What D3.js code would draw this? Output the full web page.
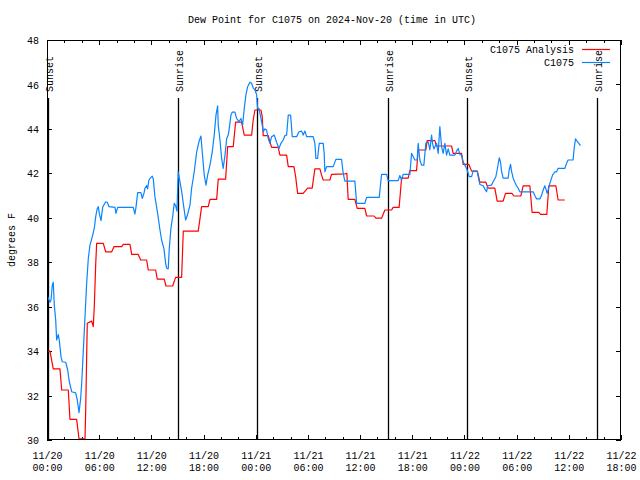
<!DOCTYPE html>
<html><head><meta charset="utf-8">
<script src="https://cdn.jsdelivr.net/npm/d3@7"></script>
<style>
html,body{margin:0;padding:0;background:#fff;}
text{font-family:"Liberation Mono","DejaVu Sans Mono",monospace;font-size:10px;fill:#000;}
</style></head>
<body><svg id="c" width="640" height="480"></svg>
<script>
// ---- data (hours since 2024-11-20 00:00 UTC) ----
const analysisHours = [0,0.17,0.34,0.72,1.49,1.69,2.45,2.64,3.41,3.68,4.37,4.45,4.63,5.14,5.32,5.44,5.6,5.71,6.47,6.75,7.44,7.70,8.59,8.77,9.54,9.74,10.49,10.77,11.46,11.64,12.49,12.68,13.48,13.68,14.45,14.79,15.48,15.67,17.39,17.78,18.54,18.74,19.51,19.69,20.54,20.77,21.41,21.69,22.38,22.68,23.53,23.71,23.91,24.6,24.75,24.86,25.44,25.63,25.83,26.59,26.78,27.55,27.74,28.39,28.59,28.82,29.46,29.97,30.49,30.8,31.38,31.57,31.76,32.53,32.72,34.25,34.48,34.63,35.4,35.67,36.55,36.75,37.62,37.82,38.47,38.85,39.62,39.8,40.49,40.77,41.53,41.72,42.49,42.68,43.56,43.71,44.6,44.79,46.52,46.7,47.67,47.85,48.51,48.82,49.48,49.77,50.46,50.72,51.49,51.76,52.45,52.72,53.45,53.68,54.48,54.75,55.52,55.78,56.55,56.75,57.47,57.7,58.51,58.77,59.54];
const analysisDew = [34.0,34.0,34.0,33.2,33.2,32.25,32.25,30.93,30.93,30.05,30.05,31.35,35.25,35.35,35.1,36.03,37.9,38.85,38.85,38.47,38.47,38.7,38.7,38.8,38.8,38.35,38.35,38.1,38.1,37.65,37.65,37.24,37.24,36.93,36.93,37.32,37.32,39.4,39.4,40.5,40.5,40.83,40.83,41.74,41.74,43.2,43.2,44.3,44.3,43.72,43.72,44.4,44.85,44.85,44.55,43.7,43.7,43.42,43.17,43.17,42.82,42.82,42.3,42.3,41.85,41.1,41.1,41.33,41.33,42.2,42.2,41.92,41.7,41.7,41.95,41.98,42.0,40.83,40.83,40.42,40.42,40.08,40.08,39.98,39.98,40.35,40.35,40.47,40.47,41.78,41.78,42.12,42.12,43.05,43.05,43.47,43.47,43.23,43.23,42.9,42.9,42.4,42.4,42.1,42.1,41.6,41.6,41.33,41.33,40.75,40.75,41.1,41.1,40.98,40.98,41.44,41.44,40.24,40.24,40.15,40.15,41.44,41.44,40.8,40.8];
const stationHours = [0,0.08,0.34,0.46,0.61,0.72,0.84,1.0,1.11,1.3,1.41,1.61,1.76,2.15,2.38,2.53,2.84,3.3,3.48,3.68,3.87,3.99,4.17,4.37,4.56,4.75,4.94,5.21,5.44,5.6,5.78,5.9,6.01,6.21,6.4,6.75,6.93,7.13,7.82,7.93,8.13,9.92,10.11,10.23,10.43,10.8,10.95,11.18,11.26,11.46,11.57,11.72,11.95,12.1,12.22,12.41,12.72,12.99,13.18,13.45,13.64,13.76,13.94,14.06,14.25,14.45,14.63,14.79,14.94,15.09,15.29,15.48,15.67,15.94,16.13,16.44,16.63,16.93,17.21,17.47,17.7,17.85,18.08,18.28,18.47,18.74,19.0,19.23,19.43,19.62,19.69,19.89,20.08,20.26,20.46,20.66,20.84,20.95,21.15,21.3,21.61,21.8,22.07,22.3,22.49,22.68,22.87,23.07,23.33,23.53,23.71,23.91,24.1,24.22,24.37,24.6,24.75,24.86,25.06,25.25,25.44,25.63,25.83,26.13,26.4,26.67,26.9,27.16,27.36,27.55,27.74,28.01,28.2,28.7,28.97,29.28,29.46,29.66,29.85,30.61,30.8,30.92,31.11,31.3,31.57,31.76,31.87,31.95,32.15,32.91,33.22,33.87,34.06,34.25,35.4,35.6,36.55,36.75,38.2,38.47,39.05,39.23,40.38,40.57,40.77,40.95,41.72,41.92,42.11,42.3,42.56,42.68,42.87,43.07,43.33,43.56,43.83,44.02,44.22,44.33,44.48,44.79,44.98,45.17,45.37,45.55,45.75,45.94,46.13,46.32,46.9,47.09,47.28,47.47,47.67,47.85,48.05,48.24,48.31,48.54,48.82,49.0,49.46,49.66,49.77,50.15,50.34,50.54,50.66,51.11,51.3,51.61,51.76,52.0,52.15,52.26,52.45,53.02,53.14,53.3,53.41,53.6,53.79,53.99,54.17,54.37,55.9,56.09,56.29,56.67,56.86,57.05,57.24,57.36,57.51,57.62,57.82,58.13,58.39,58.59,58.77,59.54,59.74,59.92,60.49,60.61,60.77,60.95,61.15,61.34];
const stationDew = [36.6,36.45,36.2,36.3,36.97,37.1,36.07,35.4,34.5,34.75,34.5,33.75,33.52,33.5,33.15,32.7,32.17,32.12,31.8,31.23,31.87,32.55,33.97,35.55,37.05,38.17,38.77,39.15,39.53,40.05,40.42,40.5,40.2,39.87,40.47,40.72,40.7,40.5,40.47,40.2,40.47,40.47,40.17,40.47,41.13,41.13,40.87,41.15,41.33,41.45,41.3,41.7,41.82,41.87,41.75,40.95,40.2,39.45,39.0,38.6,37.95,37.73,37.7,38.63,39.53,40.05,40.65,40.55,40.3,42.07,41.62,41.2,40.65,39.9,40.1,40.57,41.33,42.07,42.97,43.42,43.68,42.97,41.92,41.47,41.92,42.37,42.97,43.72,44.62,45.04,44.17,43.5,42.67,42.22,42.8,43.57,43.72,44.0,44.62,44.75,44.75,44.47,44.32,44.47,44.17,44.92,45.52,45.9,46.1,46.05,45.85,45.75,45.55,44.92,44.92,44.47,44.17,43.87,44.0,43.95,43.57,43.35,43.65,43.72,43.4,43.12,43.35,43.5,43.7,43.72,44.62,44.62,43.65,43.65,43.87,43.9,43.72,43.9,43.65,43.65,43.35,42.67,42.67,43.35,43.35,43.35,42.9,42.07,42.3,42.3,42.63,42.63,42.0,41.65,41.65,40.65,40.65,40.92,40.92,41.95,41.95,41.67,41.67,41.9,41.7,41.95,41.95,42.9,42.75,42.6,42.6,43.35,42.6,42.37,42.37,43.35,43.42,43.05,43.72,43.35,43.1,43.35,42.9,44.1,43.2,42.9,43.35,42.82,43.1,42.82,42.82,43.0,43.12,42.85,42.82,42.52,42.37,42.22,42.15,41.85,41.85,42.1,42.1,41.7,41.5,41.44,41.3,41.17,41.44,41.47,41.62,41.85,42.15,42.7,42.5,42.1,41.78,41.78,42.15,42.4,42.1,41.78,41.6,41.44,41.33,41.17,41.17,41.0,40.85,40.85,41.0,41.25,41.44,41.3,41.1,41.25,41.55,41.92,42.07,42.07,42.22,42.22,42.45,42.6,42.6,43.12,43.55,43.45,43.35,43.25];
const eventHours = [0.15,15.09,24.2,39.25,48.28,63.28];
const eventLabels = ["Sunset","Sunrise","Sunset","Sunrise","Sunset","Sunrise"];
const yTicks = [30,32,34,36,38,40,42,44,46,48];
const xTickHours = [0,6,12,18,24,30,36,42,48,54,60,66];
const xMinorHours = d3.range(0,67,2);
const seriesNames = ["C1075 Analysis","C1075"];
const seriesColors = ["#ff0000","#0a84ff"];
const titleText = "Dew Point for C1075 on 2024-Nov-20 (time in UTC)";
const yLabel = "degrees F";

// ---- setup ----
const t0 = Date.UTC(2024,10,20,0,0);
const toDate = h => new Date(t0 + h*3600e3);
const L=47,R=621,T=40,B=440;
const svg = d3.select("#c");
const x = d3.scaleUtc().domain([toDate(0),toDate(66)]).range([L,R]);
const y = d3.scaleLinear().domain([30,48]).range([B,T]);

svg.append("defs").append("clipPath").attr("id","clip").append("rect")
  .attr("x",L).attr("y",T).attr("width",R-L).attr("height",B-T);

// title
svg.append("text").attr("x",332).attr("y",23).attr("text-anchor","middle").text(titleText);
// y label
svg.append("text").attr("transform","translate(14.5,240) rotate(-90)").attr("text-anchor","middle").text(yLabel);

// axes
const fmtD = d3.utcFormat("%m/%d"), fmtT = d3.utcFormat("%H:%M");
const xMaj = xTickHours.map(toDate), xMin = xMinorHours.map(toDate);
function styleAxis(g){ g.select(".domain").remove(); g.selectAll("line").attr("stroke","#000").attr("shape-rendering","crispEdges"); }
// bottom
svg.append("g").attr("transform",`translate(0,${B})`).call(d3.axisBottom(x).tickValues(xMin).tickSize(-3).tickFormat("")).call(styleAxis);
const gb = svg.append("g").attr("transform",`translate(0,${B})`).call(d3.axisBottom(x).tickValues(xMaj).tickSize(-5).tickPadding(0).tickFormat("")).call(styleAxis);
gb.selectAll(".tick").append("text").attr("text-anchor","middle").attr("fill","#000")
  .each(function(d){ const t=d3.select(this);
    t.append("tspan").attr("x",0).attr("y",18.5).text(fmtD(d));
    t.append("tspan").attr("x",0).attr("y",31).text(fmtT(d)); });
// top
svg.append("g").attr("transform",`translate(0,${T})`).call(d3.axisTop(x).tickValues(xMin).tickSize(-3).tickFormat("")).call(styleAxis);
svg.append("g").attr("transform",`translate(0,${T})`).call(d3.axisTop(x).tickValues(xMaj).tickSize(-5).tickFormat("")).call(styleAxis);
// left
const gl = svg.append("g").attr("transform",`translate(${L},0)`).call(d3.axisLeft(y).tickValues(yTicks).tickSize(-5).tickPadding(8).tickFormat(d3.format("d"))).call(styleAxis);
gl.selectAll("text").attr("fill","#000").attr("font-size","10px").attr("font-family",'"Liberation Mono","DejaVu Sans Mono",monospace').attr("dy","0.36em");
// right
svg.append("g").attr("transform",`translate(${R},0)`).call(d3.axisRight(y).tickValues(yTicks).tickSize(-5).tickFormat("")).call(styleAxis);

// events
const ev = svg.append("g");
eventHours.forEach((h,i)=>{
  const xx = Math.round(x(toDate(h)))+0.5;
  ev.append("line").attr("x1",xx).attr("x2",xx).attr("y1",98).attr("y2",B).attr("stroke","#000").attr("stroke-width",1.3);
  ev.append("text").attr("transform",`translate(${xx+4.5},92) rotate(-90)`).text(eventLabels[i]);
});

// series
const line = d3.line().x(d=>x(toDate(d[0]))).y(d=>y(d[1]));
const series = [d3.zip(analysisHours,analysisDew), d3.zip(stationHours,stationDew)];
series.forEach((s,i)=>{
  svg.append("path").attr("clip-path","url(#clip)").attr("d",line(s)).attr("fill","none")
    .attr("stroke",seriesColors[i]).attr("stroke-width",1.2).attr("stroke-linejoin","round");
});

// border
svg.append("rect").attr("x",L+0.5).attr("y",T+0.5).attr("width",R-L-1).attr("height",B-T-1)
  .attr("fill","none").attr("stroke","#000").attr("stroke-width",1).attr("shape-rendering","crispEdges");

// legend
seriesNames.forEach((n,i)=>{
  const yy = 49.5 + i*13;
  svg.append("text").attr("x",574).attr("y",yy+3.5).attr("text-anchor","end").text(n);
  svg.append("line").attr("x1",582).attr("x2",610).attr("y1",yy).attr("y2",yy).attr("stroke",seriesColors[i]).attr("stroke-width",1.2);
});
</script></body></html>
